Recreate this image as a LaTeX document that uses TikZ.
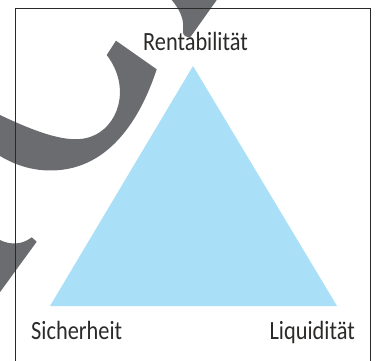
\documentclass[tikz,border=0pt]{standalone}
\usepackage{fontspec}
\setmainfont[FakeStretch=0.85]{Carlito}
\usetikzlibrary{positioning}
\usepackage{xcolor}

\definecolor{skyfill}{HTML}{AADFF8}
\definecolor{stampgray}{HTML}{6B6C70}
\definecolor{inkgray}{HTML}{2B2A29}

\tikzset{
  corner/.style={inner sep=0pt, anchor=base, text=inkgray,
    font=\fontsize{26.3}{30}\selectfont},
  frame/.style={draw=inkgray, line width=0.9pt},
  stamp/.style={fill=stampgray, draw=none}
}

\begin{document}
\begin{tikzpicture}[x=1pt,y=1pt]
      \useasboundingbox (0,0) rectangle (377,360);
      \clip (0,0) rectangle (377,360);

      % Grey strokes behind the frame
      \fill[stamp] (171.7,366) -- (171.7,360) .. controls (182,348) and (184,338) .. (183,330)
        .. controls (182.5,326) and (184,324) .. (187.5,323) -- (190.7,323.3) -- (221,366) -- cycle;
      \fill[stamp] (-5,247) -- (0,245) .. controls (40,226) and (70,216) .. (90,223)
        .. controls (118,232) and (132,272) .. (106.7,305) -- (116,319.3) -- (156.7,290.7)
        .. controls (140,240) and (110,195) .. (60,190)
        .. controls (35,187.5) and (15,195) .. (0,204) -- (-5,206) -- cycle;
      \fill[stamp] (-5,122) -- (0,120) .. controls (10,115) and (22,115) .. (31.7,122.7)
        -- (36.7,118.3) -- (-5,61) -- cycle;

      % Frame
      \draw[frame] (15.5,-5) -- (15.5,351.5) -- (370.5,351.5) -- (370.5,-5);

      % Triangle
      \coordinate (top) at (193,294);
      \coordinate (left) at (50,54);
      \coordinate (right) at (337,54);
      \fill[skyfill] (left) -- (top) -- (right) -- cycle;

      % Labels
      \node[corner] (rent) at (195.5,309.5) {Rentabilität};
      \node[corner, anchor=base west] (sich) at (31,20.7) {Sicherheit};
      \node[corner, anchor=base east] (liqu) at (355,20.7) {Liquidität};
\end{tikzpicture}
\end{document}
